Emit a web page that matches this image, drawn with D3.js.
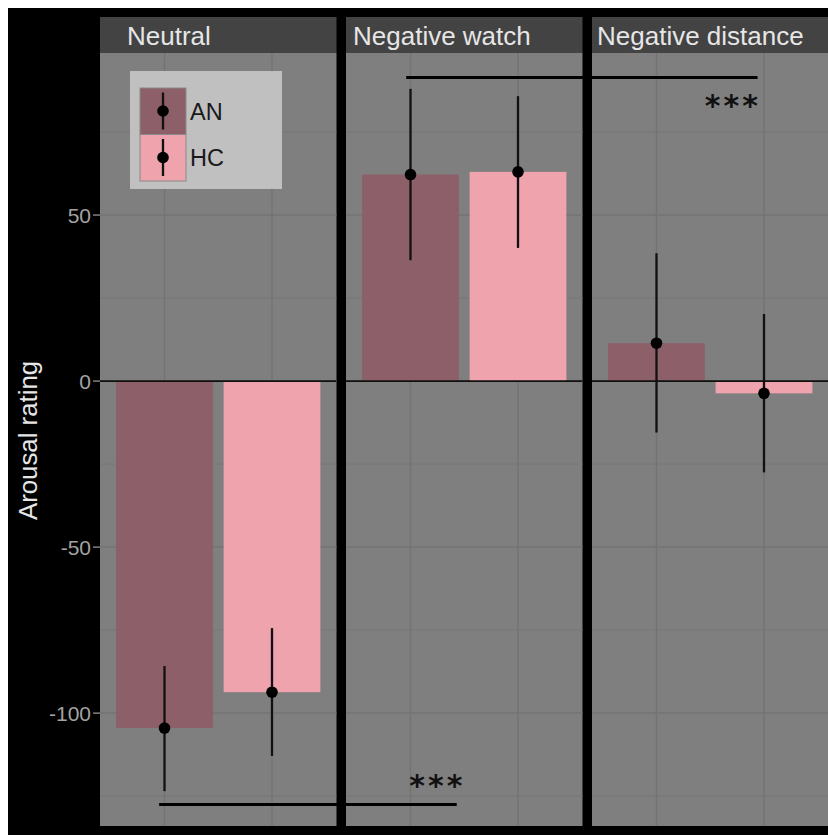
<!DOCTYPE html>
<html>
<head>
<meta charset="utf-8">
<script src="https://cdn.jsdelivr.net/npm/d3@7"></script>
<style>
  html, body { margin: 0; padding: 0; background: #ffffff; }
  svg { display: block; }
</style>
</head>
<body>
<svg id="chart" width="828" height="835"></svg>
<script>
// ---- data ----
const panels = ["Neutral", "Negative watch", "Negative distance"];
const groups = ["AN", "HC"];
const meanAN = [-104.5, 62.2, 11.4];
const meanHC = [-93.7, 63.0, -3.7];
const lowAN  = [-123.5, 36.4, -15.5];
const highAN = [-85.8, 88.0, 38.5];
const lowHC  = [-112.9, 40.1, -27.5];
const highHC = [-74.4, 85.8, 20.2];
const yMajorTicks = [-100, -50, 0, 50];
const yMinorTicks = [-125, -75, -25, 25, 75];
const yTitle = "Arousal rating";
// significance brackets: panel index + x position (1 = AN, 2 = HC) + y value
const sigFromPanel = [1, 0];
const sigFromX     = [0.96, 0.95];
const sigToPanel   = [2, 1];
const sigToX       = [1.94, 1.43];
const sigY         = [91.4, -127.5];
const sigLabel     = ["***", "***"];
const sigLabelPanel = [2, 1];
const sigLabelX    = [1.71, 1.25];
const sigLabelY    = [84.4, -120.4];

const colors = { AN: "#8d5f68", HC: "#eea3ad" };

// ---- layout ----
const svg = d3.select("#chart");
const panelTop = 53, panelBottom = 826;
const stripTop = 17;
const panelLeft = [100, 346, 592];
const panelW = 236.5;

svg.append("rect").attr("x", 8).attr("y", 8).attr("width", 828 - 8).attr("height", 835 - 8)
  .attr("fill", "#000");

const y = d3.scaleLinear().domain([-134.0, 98.8]).range([panelBottom, panelTop]);
const xs = panelLeft.map(l => d3.scaleLinear().domain([0.4, 2.6]).range([l, l + panelW]));
const gx = { AN: 1, HC: 2 };
const barW = 0.9;

const rows = [];
panels.forEach((p, i) => {
  rows.push({ panel: i, group: "AN", mean: meanAN[i], lo: lowAN[i], hi: highAN[i] });
  rows.push({ panel: i, group: "HC", mean: meanHC[i], lo: lowHC[i], hi: highHC[i] });
});

panels.forEach((p, i) => {
  const x = xs[i];
  const g = svg.append("g");
  // strip
  g.append("rect").attr("x", panelLeft[i]).attr("y", stripTop).attr("width", panelW)
    .attr("height", panelTop - stripTop).attr("fill", "#434343");
  // panel background
  g.append("rect").attr("x", panelLeft[i]).attr("y", panelTop).attr("width", panelW)
    .attr("height", panelBottom - panelTop).attr("fill", "#7f7f7f");
  // minor grid
  g.selectAll(".gmin").data(yMinorTicks).enter().append("line")
    .attr("x1", panelLeft[i]).attr("x2", panelLeft[i] + panelW)
    .attr("y1", d => y(d)).attr("y2", d => y(d))
    .attr("stroke", "#777777").attr("stroke-width", 1);
  // major grid
  g.selectAll(".gmaj").data(yMajorTicks).enter().append("line")
    .attr("x1", panelLeft[i]).attr("x2", panelLeft[i] + panelW)
    .attr("y1", d => y(d)).attr("y2", d => y(d))
    .attr("stroke", "#737373").attr("stroke-width", 1.5);
  g.selectAll(".gx").data(groups).enter().append("line")
    .attr("x1", d => x(gx[d])).attr("x2", d => x(gx[d]))
    .attr("y1", panelTop).attr("y2", panelBottom)
    .attr("stroke", "#737373").attr("stroke-width", 1.5);
  // strip label
  const stripX = [127, 353, 597];
  g.append("text").attr("x", stripX[i]).attr("y", 45)
    .attr("font-family", "Liberation Sans, Arial, sans-serif").attr("font-size", 26)
    .attr("fill", "#e6e6e6").text(p);

  const data = rows.filter(r => r.panel === i);
  // bars
  g.selectAll(".bar").data(data).enter().append("rect")
    .attr("x", d => x(gx[d.group] - barW / 2))
    .attr("width", d => x(gx[d.group] + barW / 2) - x(gx[d.group] - barW / 2))
    .attr("y", d => y(Math.max(0, d.mean)))
    .attr("height", d => Math.abs(y(d.mean) - y(0)))
    .attr("fill", d => colors[d.group]);
  // zero line
  g.append("line").attr("x1", panelLeft[i]).attr("x2", panelLeft[i] + panelW)
    .attr("y1", y(0)).attr("y2", y(0)).attr("stroke", "#111").attr("stroke-width", 1.8);
  // error bars
  g.selectAll(".err").data(data).enter().append("line")
    .attr("x1", d => x(gx[d.group])).attr("x2", d => x(gx[d.group]))
    .attr("y1", d => y(d.lo)).attr("y2", d => y(d.hi))
    .attr("stroke", "#111").attr("stroke-width", 2.3);
  g.selectAll(".pt").data(data).enter().append("circle")
    .attr("cx", d => x(gx[d.group])).attr("cy", d => y(d.mean)).attr("r", 5.8)
    .attr("fill", "#000");
});

// y axis
const axisG = svg.append("g");
axisG.selectAll(".tk").data(yMajorTicks).enter().append("line")
  .attr("x1", 93).attr("x2", 100).attr("y1", d => y(d)).attr("y2", d => y(d))
  .attr("stroke", "#a0a0a0").attr("stroke-width", 1.2);
axisG.selectAll(".tl").data(yMajorTicks).enter().append("text")
  .attr("x", 91).attr("y", d => y(d) + 7.5).attr("text-anchor", "end")
  .attr("font-family", "Liberation Sans, Arial, sans-serif").attr("font-size", 21)
  .attr("fill", "#a3a3a3").text(d => d);
svg.append("text")
  .attr("transform", "translate(37," + 440.5 + ") rotate(-90)")
  .attr("text-anchor", "middle")
  .attr("font-family", "Liberation Sans, Arial, sans-serif").attr("font-size", 25.8)
  .attr("fill", "#e6e6e6").text(yTitle);

// legend
const lg = svg.append("g");
lg.append("rect").attr("x", 130).attr("y", 71).attr("width", 152).attr("height", 118)
  .attr("fill", "#c0c0c0");
groups.forEach((grp, k) => {
  const ky = 88 + k * 46.5;
  lg.append("rect").attr("x", 140).attr("y", ky).attr("width", 46).attr("height", 46.5)
    .attr("fill", colors[grp]).attr("stroke", "#8a8a8a").attr("stroke-width", 1);
  lg.append("line").attr("x1", 163).attr("x2", 163).attr("y1", ky + 4.5).attr("y2", ky + 41.5)
    .attr("stroke", "#111").attr("stroke-width", 2.3);
  lg.append("circle").attr("cx", 163).attr("cy", ky + 23).attr("r", 5.8).attr("fill", "#000");
  lg.append("text").attr("x", 190).attr("y", ky + 31.5)
    .attr("font-family", "Liberation Sans, Arial, sans-serif").attr("font-size", 23.5)
    .attr("fill", "#1a1a1a").text(grp);
});

// significance brackets
const sg = svg.append("g");
sigY.forEach((v, k) => {
  sg.append("line")
    .attr("x1", xs[sigFromPanel[k]](sigFromX[k])).attr("x2", xs[sigToPanel[k]](sigToX[k]))
    .attr("y1", y(v)).attr("y2", y(v))
    .attr("stroke", "#000").attr("stroke-width", 3);
  sg.append("text")
    .attr("x", xs[sigLabelPanel[k]](sigLabelX[k])).attr("y", y(sigLabelY[k]) + 15)
    .attr("text-anchor", "middle")
    .attr("font-family", "DejaVu Sans, sans-serif").attr("font-size", 30)
    .attr("font-weight", "bold")
    .attr("letter-spacing", 3)
    .attr("fill", "#111").text(sigLabel[k]);
});
</script>
</body>
</html>
